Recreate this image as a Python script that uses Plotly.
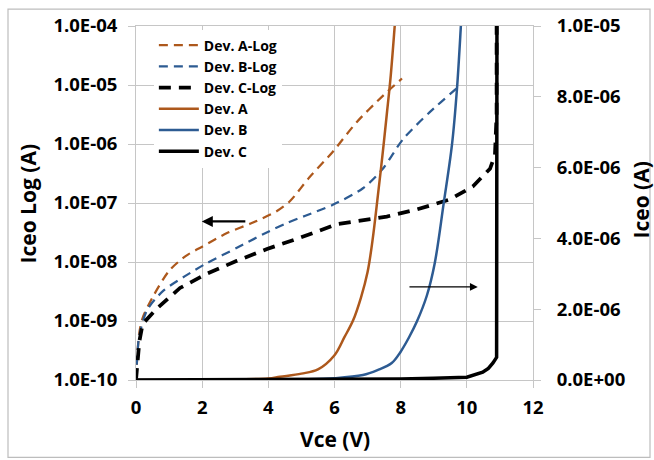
import plotly.graph_objects as go

# ---- data ----
# Log-scale series (left axis): Vce (V) and log10(Iceo)
a_log_x = [0, 0.05, 0.1, 0.2, 0.5, 1.0, 1.5, 2.0, 2.75, 3.5, 4.25, 4.65, 5.25, 5.95, 6.67, 7.47, 8.04]
a_log_e = [-10, -9.5, -9.2, -8.95, -8.6, -8.15, -7.9, -7.74, -7.51, -7.34, -7.14, -6.97, -6.56, -6.13, -5.63, -5.18, -4.89]

b_log_x = [0, 0.05, 0.1, 0.33, 0.82, 1.48, 2.14, 3.05, 3.84, 4.56, 5.1, 5.95, 6.86, 7.46, 8.07, 8.88, 9.79]
b_log_e = [-10, -9.5, -9.25, -8.82, -8.49, -8.24, -8.02, -7.76, -7.53, -7.34, -7.22, -7.03, -6.75, -6.42, -5.92, -5.46, -5.01]

c_log_x = [0, 0.05, 0.1, 0.2, 0.63, 1.33, 2.14, 3.05, 3.96, 4.9, 6.07, 7.58, 8.49, 9.49, 10.18, 10.7, 10.85, 10.9, 10.9]
c_log_e = [-10, -9.6, -9.35, -9.05, -8.79, -8.44, -8.2, -7.98, -7.78, -7.6, -7.36, -7.23, -7.11, -6.94, -6.72, -6.42, -6.19, -5.5, -4.0]

# Linear series (right axis): Vce (V) and Iceo in microamps
a_x = [0, 2, 3, 4, 4.35, 5, 5.5, 6, 6.3, 6.56, 6.8, 7.0, 7.15, 7.31, 7.45, 7.58, 7.7, 7.82, 7.86]
a_ua = [0, 0.01, 0.02, 0.04, 0.09, 0.18, 0.3, 0.7, 1.21, 1.68, 2.33, 3.05, 3.95, 5.2, 6.35, 7.5, 8.6, 10.0, 10.5]

b_x = [0, 5, 6, 6.86, 7.3, 7.73, 8.0, 8.25, 8.49, 8.79, 9.03, 9.3, 9.55, 9.7, 9.82, 9.85]
b_ua = [0, 0.02, 0.05, 0.14, 0.28, 0.48, 0.8, 1.2, 1.65, 2.38, 3.3, 4.99, 6.64, 8.2, 10.0, 10.5]

c_x = [0, 4, 8, 9, 10, 10.48, 10.65, 10.79, 10.9, 10.91, 10.92]
c_ua = [0, 0.01, 0.03, 0.05, 0.08, 0.22, 0.33, 0.48, 0.64, 10.0, 10.5]

log_ticks = [1e-10, 1e-9, 1e-8, 1e-7, 1e-6, 1e-5, 1e-4]
log_ticktext = ["1.0E-10", "1.0E-09", "1.0E-08", "1.0E-07", "1.0E-06", "1.0E-05", "1.0E-04"]
lin_ticks = [0, 2e-6, 4e-6, 6e-6, 8e-6, 1e-5]
lin_ticktext = ["0.0E+00", "2.0E-06", "4.0E-06", "6.0E-06", "8.0E-06", "1.0E-05"]
x_ticks = [0, 2, 4, 6, 8, 10, 12]

ORANGE = "#AD581C"
BLUE = "#2D5B92"
BLACK = "#000000"
GRID = "#C6C6C6"
FONT = "Open Sans"

L, R, T, B = 136, 121, 23, 80
PW, PH = 654 - L - R, 460 - T - B


def px_x(px):
    return (px - L) / PW


def px_y(py):
    return (460 - B - py) / PH


fig = go.Figure()


def pw(es):
    return [10 ** e for e in es]


fig.add_trace(go.Scatter(x=a_log_x, y=pw(a_log_e), name="Dev. A-Log", mode="lines",
                         line=dict(color=ORANGE, width=2.25, dash="9px,6px", shape="spline", smoothing=0.8), yaxis="y"))
fig.add_trace(go.Scatter(x=b_log_x, y=pw(b_log_e), name="Dev. B-Log", mode="lines",
                         line=dict(color=BLUE, width=2.25, dash="9px,6px", shape="spline", smoothing=0.8), yaxis="y"))
fig.add_trace(go.Scatter(x=c_log_x, y=pw(c_log_e), name="Dev. C-Log", mode="lines",
                         line=dict(color=BLACK, width=3.75, dash="12px,8px"), yaxis="y"))
fig.add_trace(go.Scatter(x=a_x, y=[v * 1e-6 for v in a_ua], name="Dev. A", mode="lines",
                         line=dict(color=ORANGE, width=2.5, shape="spline", smoothing=1.0), yaxis="y2"))
fig.add_trace(go.Scatter(x=b_x, y=[v * 1e-6 for v in b_ua], name="Dev. B", mode="lines",
                         line=dict(color=BLUE, width=2.5, shape="spline", smoothing=1.0), yaxis="y2"))
fig.add_trace(go.Scatter(x=c_x, y=[v * 1e-6 for v in c_ua], name="Dev. C", mode="lines",
                         line=dict(color=BLACK, width=3.5), yaxis="y2"))

tickfont = dict(family=FONT, size=18.5, color="black", weight="bold")
titlefont = dict(family=FONT, size=21, color="black", weight="bold")

fig.update_layout(
    width=654, height=460,
    margin=dict(l=L, r=R, t=T, b=B),
    paper_bgcolor="white", plot_bgcolor="white",
    font=dict(family=FONT, color="black"),
    showlegend=True,
    legend=dict(x=0.045, y=0.99, xanchor="left", yanchor="top",
                bgcolor="white", borderwidth=0,
                font=dict(family=FONT, size=14, color="black", weight="bold"),
                tracegroupgap=0, itemwidth=40),
    xaxis=dict(range=[0, 12], tickvals=x_ticks, ticktext=[str(t) for t in x_ticks],
               showgrid=True, gridcolor=GRID, gridwidth=1, zeroline=False,
               showline=True, linecolor=GRID, mirror=True,
               ticks="outside", ticklen=7, tickcolor=GRID,
               tickfont=tickfont, ticklabelstandoff=4),
    yaxis=dict(type="log", range=[-10, -4], tickvals=log_ticks, ticktext=log_ticktext,
               showgrid=True, gridcolor=GRID, gridwidth=1, zeroline=False,
               showline=True, linecolor=GRID, mirror=True,
               ticks="outside", ticklen=7, tickcolor=GRID,
               tickfont=tickfont, ticklabelstandoff=7),
    yaxis2=dict(range=[0, 1e-5], tickvals=lin_ticks, ticktext=lin_ticktext,
                overlaying="y", side="right", showgrid=False, zeroline=False,
                showline=False, ticks="outside", ticklen=7, tickcolor=GRID,
                tickfont=tickfont, ticklabelstandoff=12),
)

# axis titles
fig.add_annotation(text="Vce (V)", xref="paper", yref="paper", x=px_x(335), y=px_y(440),
                   xanchor="center", yanchor="middle", showarrow=False, font=titlefont)
fig.add_annotation(text="Iceo Log (A)", xref="paper", yref="paper", x=px_x(28), y=px_y(202),
                   xanchor="center", yanchor="middle", textangle=-90, showarrow=False, font=titlefont)
fig.add_annotation(text="Iceo (A)", xref="paper", yref="paper", x=px_x(641), y=px_y(199),
                   xanchor="center", yanchor="middle", textangle=-90, showarrow=False, font=titlefont)

# arrows indicating which axis each group belongs to
fig.add_annotation(x=1.99, y=4.48e-6, ax=3.35, ay=4.48e-6, xref="x", yref="y2",
                   axref="x", ayref="y2", showarrow=True, arrowhead=2, arrowsize=1,
                   arrowwidth=2.2, arrowcolor="black", text="")
fig.add_annotation(x=10.33, y=2.63e-6, ax=8.22, ay=2.63e-6, xref="x", yref="y2",
                   axref="x", ayref="y2", showarrow=True, arrowhead=2, arrowsize=1.3,
                   arrowwidth=1.2, arrowcolor="black", text="")

# outer chart border
fig.add_shape(type="rect", xref="paper", yref="paper",
              x0=px_x(8), x1=px_x(650), y0=px_y(458), y1=px_y(6),
              line=dict(color="#BDBDBD", width=1.2), fillcolor="rgba(0,0,0,0)", layer="below")

fig.write_html("out.html")
